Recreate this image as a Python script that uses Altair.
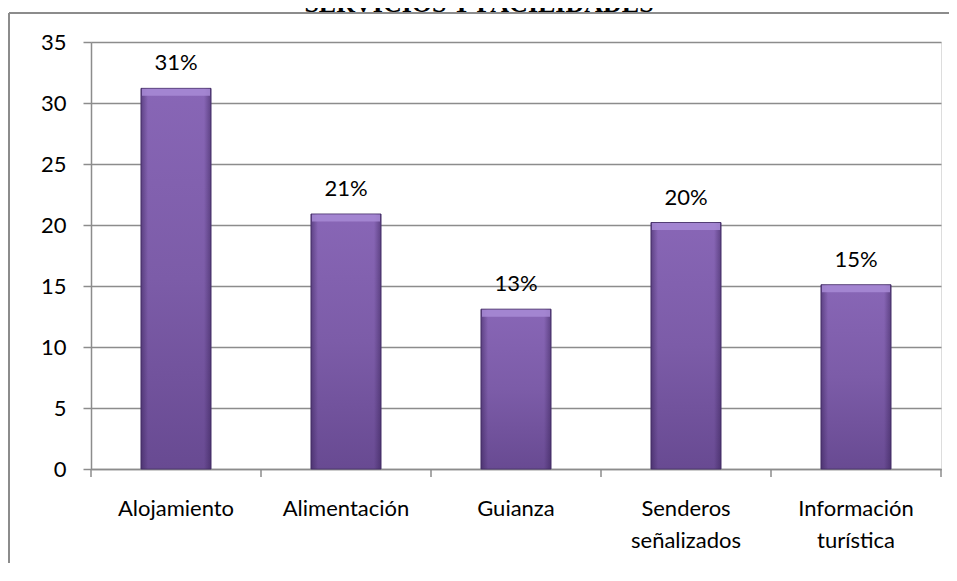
import altair as alt
import pandas as pd

categories = ["Alojamiento", "Alimentación", "Guianza", "Senderos señalizados", "Información turística"]
values = [31.2, 20.9, 13.1, 20.2, 15.1]
labels = ["31%", "21%", "13%", "20%", "15%"]
title_text = "SERVICIOS Y FACILIDADES"

df = pd.DataFrame({"cat": categories, "val": values, "lab": labels})

FONT = "Lato"
GRID = "#8c8c8c"
FS = 22

xscale = alt.Scale(domain=categories, paddingInner=0.588, paddingOuter=0.294)
yscale = alt.Scale(domain=[0, 35])

x = alt.X("cat:N", sort=categories, scale=xscale,
          axis=alt.Axis(title=None, labelAngle=0, ticks=False, domainColor=GRID, domainWidth=1.5,
                        labelFont=FONT, labelFontSize=FS, labelColor="#000000",
                        labelPadding=29, labelBaseline="top", labelLineHeight=32,
                        labelExpr="split(datum.label, ' ')", labelLimit=300))
y = alt.Y("val:Q", scale=yscale,
          axis=alt.Axis(title=None, values=[0, 5, 10, 15, 20, 25, 30, 35], grid=True,
                        gridColor=GRID, gridWidth=1.5, domainColor=GRID, domainWidth=1.5,
                        tickColor=GRID, tickWidth=1.5, tickSize=8,
                        labelFont=FONT, labelFontSize=FS, labelColor="#000000", labelPadding=17))

base = alt.Chart(df)
xs = alt.X("cat:N", sort=categories, scale=xscale)
ys = alt.Y("val:Q", scale=yscale)

bars = base.mark_bar(
    color=alt.Gradient(gradient="linear",
                       stops=[alt.GradientStop(color="#8866b6", offset=0),
                              alt.GradientStop(color="#7c5ca8", offset=0.5),
                              alt.GradientStop(color="#684a92", offset=1)],
                       x1=0, x2=0, y1=0, y2=1),
    stroke="#4e3870", strokeWidth=1
).encode(x=x, y=y)

shade = base.mark_bar(
    color=alt.Gradient(gradient="linear",
                       stops=[alt.GradientStop(color="rgba(45,25,75,0.45)", offset=0),
                              alt.GradientStop(color="rgba(45,25,75,0)", offset=0.1),
                              alt.GradientStop(color="rgba(45,25,75,0)", offset=0.9),
                              alt.GradientStop(color="rgba(45,25,75,0.45)", offset=1)],
                       x1=0, x2=1, y1=0, y2=0)
).encode(x=xs, y=ys)

bevel = base.mark_tick(size=68, thickness=7, yOffset=4, color="#a88bd6", opacity=0.85).encode(x=xs, y=ys)

text = base.mark_text(font=FONT, fontSize=FS, color="#000000", baseline="middle", dy=-25).encode(
    x=xs, y=ys, text="lab:N")

xticks = base.mark_rule(color=GRID, strokeWidth=1.5, xOffset=-85).encode(
    x=xs, y=alt.value(427), y2=alt.value(435))
xtick_end = base.transform_filter(alt.datum.cat == categories[-1]).mark_rule(
    color=GRID, strokeWidth=1.5, xOffset=85).encode(
    x=xs, y=alt.value(427), y2=alt.value(435))

frame = alt.Chart(pd.DataFrame({"k": [0]}))
border_top = frame.mark_rule(color=GRID, strokeWidth=2).encode(
    x=alt.value(-82), x2=alt.value(858), y=alt.value(-29))
border_left = frame.mark_rule(color=GRID, strokeWidth=2).encode(
    x=alt.value(-82), y=alt.value(-29), y2=alt.value(522))

title = frame.mark_text(
    font="Liberation Serif", fontWeight="bold", fontSize=26, color="#000000",
    baseline="alphabetic", align="center").encode(
    x=alt.value(388), y=alt.value(-30), text=alt.value(title_text))

chart = alt.layer(bars, shade, bevel, text, xticks, xtick_end, border_top, border_left, title).properties(
    width=850, height=427,
    autosize=alt.AutoSizeParams(type="none"),
    padding={"left": 83, "top": 34, "right": 8, "bottom": 94},
).configure_view(stroke=None).configure(background="white")

chart.save("out.html", embed_options={"renderer": "svg", "actions": False})
